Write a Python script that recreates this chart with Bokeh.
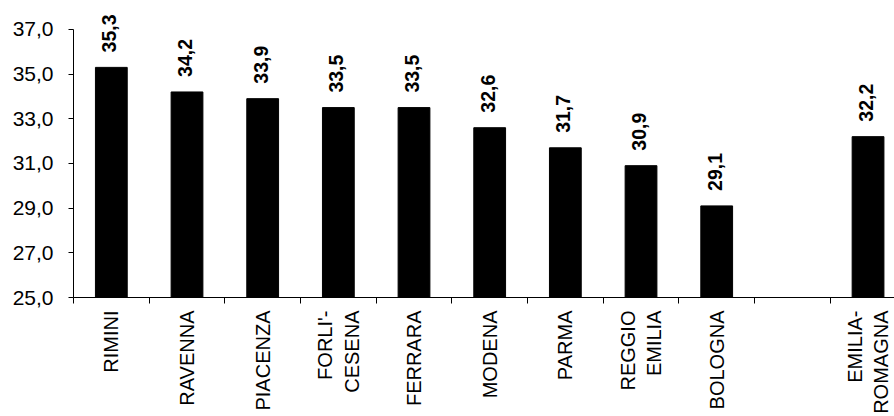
import math
from bokeh.plotting import figure
from bokeh.models import Range1d, FixedTicker, ColumnDataSource, LabelSet
from bokeh.core.properties import value
from bokeh.embed import file_html
from bokeh.resources import INLINE

# ---- data ----
categories = ["RIMINI", "RAVENNA", "PIACENZA", "FORLI'-\nCESENA", "FERRARA",
              "MODENA", "PARMA", "REGGIO\nEMILIA", "BOLOGNA", "", "EMILIA-\nROMAGNA"]
values = [35.3, 34.2, 33.9, 33.5, 33.5, 32.6, 31.7, 30.9, 29.1, None, 32.2]
y_ticks = [25, 27, 29, 31, 33, 35, 37]
y_tick_labels = ["25,0", "27,0", "29,0", "31,0", "33,0", "35,0", "37,0"]

FONT = "Liberation Sans"

pos = [i for i, v in enumerate(values) if v is not None]
vals = [values[i] for i in pos]
src = ColumnDataSource(dict(
    x=pos, top=vals,
    lbl=[f"{v:.1f}".replace(".", ",") for v in vals],
))

W, H = 894, 416
slot_px = 75.67
frame_left = 73
axis_top_px = 29          # pixel position of the 37,0 tick
axis_bottom_px = 298      # pixel position of the 25,0 tick
px_per_unit = (axis_bottom_px - axis_top_px) / (y_ticks[-1] - y_ticks[0])
y_end = y_ticks[-1] + axis_top_px / px_per_unit
n_visible = (W - frame_left) / slot_px

p = figure(width=W, height=H, output_backend="svg", toolbar_location=None,
           x_range=Range1d(-0.5, -0.5 + n_visible),
           y_range=Range1d(y_ticks[0], y_end),
           min_border_left=frame_left, min_border_right=0, min_border_top=0,
           min_border_bottom=H - axis_bottom_px)
p.outline_line_color = None
p.background_fill_color = "white"
p.border_fill_color = "white"
p.xgrid.visible = False
p.ygrid.visible = False

p.vbar(x="x", top="top", bottom=y_ticks[0], width=0.42, source=src,
       fill_color="black", line_color="black")

labels = LabelSet(x="x", y="top", text="lbl", source=src, angle=math.pi / 2,
                  y_offset=15, x_offset=-2, text_align="left", text_baseline="middle",
                  text_font=value(FONT), text_font_size=value("19.5px"),
                  text_font_style=value("bold"), text_color=value("black"))
p.add_layout(labels)

# x axis
xa = p.xaxis[0]
xa.ticker = FixedTicker(ticks=[i for i, c in enumerate(categories) if c],
                        minor_ticks=[i - 0.5 for i in range(len(categories) + 1)])
xa.major_label_overrides = {i: c for i, c in enumerate(categories) if c}
xa.major_label_orientation = math.pi / 2
xa.major_tick_line_color = None
xa.major_tick_out = 0
xa.major_tick_in = 0
xa.minor_tick_out = 6
xa.minor_tick_in = 0
xa.minor_tick_line_color = "black"
xa.major_label_standoff = 7
xa.major_label_text_font = FONT
xa.major_label_text_font_size = "20px"
xa.major_label_text_color = "black"
xa.axis_line_color = "black"

# y axis
ya = p.yaxis[0]
ya.ticker = FixedTicker(ticks=y_ticks)
ya.bounds = (y_ticks[0], y_ticks[-1])
ya.major_label_overrides = dict(zip(y_ticks, y_tick_labels))
ya.minor_tick_line_color = None
ya.major_tick_out = 5
ya.major_tick_in = 0
ya.major_tick_line_color = "black"
ya.major_label_standoff = 15
ya.major_label_text_font = FONT
ya.major_label_text_font_size = "21px"
ya.major_label_text_color = "black"
ya.axis_line_color = "black"

open("out.html", "w").write(file_html(p, INLINE))
